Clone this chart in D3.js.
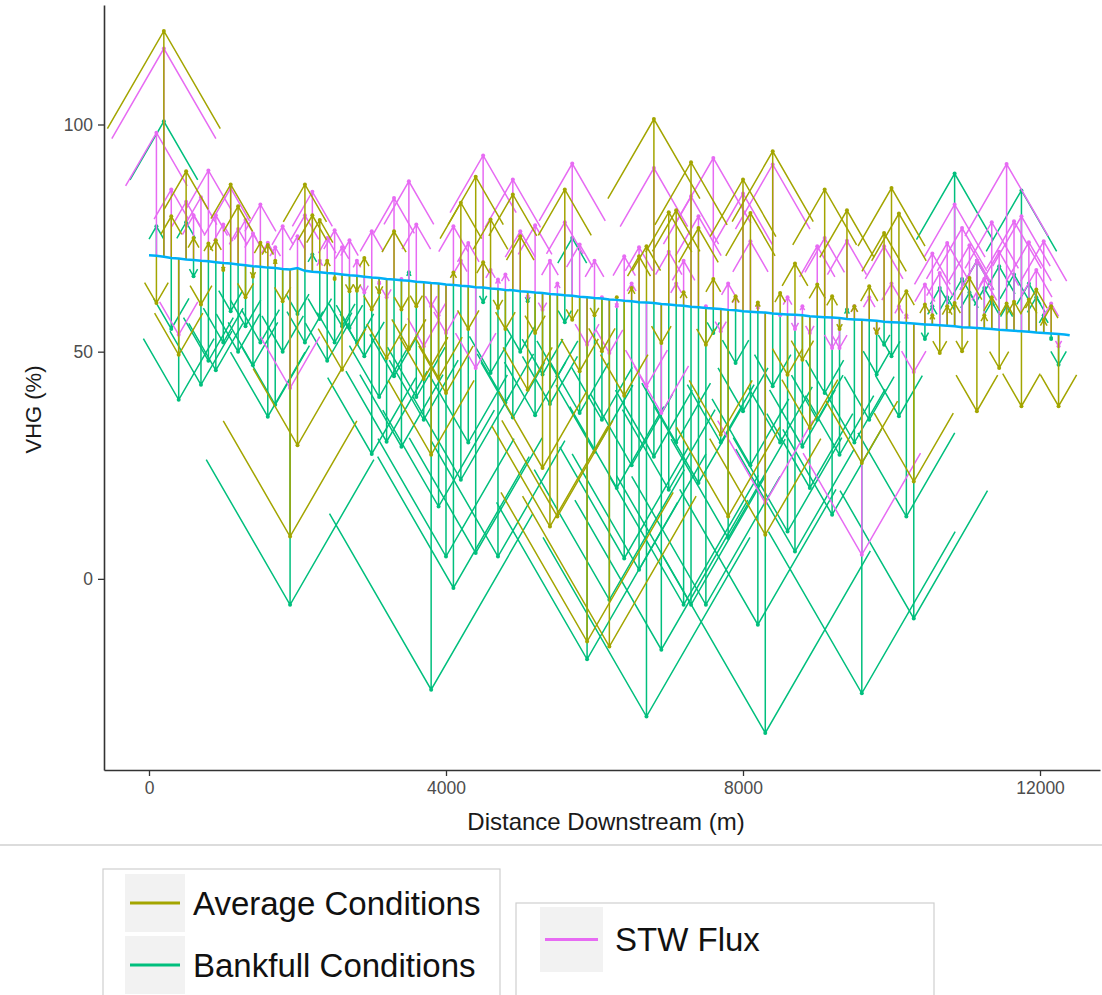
<!DOCTYPE html>
<html>
<head>
<meta charset="utf-8">
<script src="https://cdn.jsdelivr.net/npm/d3@7"></script>
<style>
  body { margin: 0; background: #fff; }
  text { font-family: "Liberation Sans", Arial, sans-serif; }
</style>
</head>
<body>
<svg id="chart" width="1102" height="995"></svg>
<script>
// Survey stations along the reach (m downstream)
const distance = [
  0,100,200,300,400,500,600,700,800,900,1000,1100,1200,1300,1400,1500,1600,1700,1800,1900,
  2000,2100,2200,2300,2400,2500,2600,2700,2800,2900,3000,3100,3200,3300,3400,3500,3600,3700,3800,3900,
  4000,4100,4200,4300,4400,4500,4600,4700,4800,4900,5000,5100,5200,5300,5400,5500,5600,5700,5800,5900,
  6000,6100,6200,6300,6400,6500,6600,6700,6800,6900,7000,7100,7200,7300,7400,7500,7600,7700,7800,7900,
  8000,8100,8200,8300,8400,8500,8600,8700,8800,8900,9000,9100,9200,9300,9400,9500,9600,9700,9800,9900,
  10000,10100,10200,10300,10450,10550,10650,10750,10850,10950,11050,11150,11250,11350,11450,11550,11650,11750,11850,11950,
  12050,12150,12250,12330,12400
];

// Reference VHG at each station (start of every arrow)
const baseline = [
  71.2,71.1,70.9,70.6,70.5,70.3,70.2,70.0,69.9,69.7,69.5,69.4,69.2,69.0,68.8,68.7,68.5,68.4,68.2,68.1,
  68.4,67.8,67.6,67.5,67.3,67.2,67.0,66.8,66.7,66.5,66.3,66.2,66.0,65.9,65.7,65.6,65.4,65.3,65.1,65.0,
  64.8,64.7,64.5,64.4,64.2,64.1,63.9,63.8,63.6,63.5,63.3,63.2,63.0,62.9,62.7,62.6,62.4,62.3,62.1,62.0,
  61.8,61.7,61.5,61.4,61.2,61.1,60.9,60.8,60.7,60.5,60.4,60.2,60.1,59.9,59.8,59.6,59.5,59.4,59.2,59.1,
  58.9,58.8,58.7,58.6,58.4,58.3,58.2,58.1,58.0,57.8,57.7,57.6,57.5,57.4,57.2,57.1,57.0,56.9,56.8,56.6,
  56.5,56.4,56.3,56.2,56.0,55.9,55.8,55.7,55.6,55.4,55.3,55.2,55.1,55.0,54.8,54.7,54.6,54.5,54.4,54.2,
  54.1,54.0,53.9,53.8,53.6
];

// VHG under average flow conditions
const average = [
  null,60.7,120.6,79.8,49.3,89.7,75,60.4,73.8,74.5,68,86.8,82.0,62,66.5,74,73.5,70,61.1,9.3,
  29.4,86.8,80,79,70,66,46,63.3,63.4,70.6,59.3,63,48.6,76.5,59.3,50.6,60,44,27.3,44.2,
  40.9,67.4,82.8,55,88.5,69.7,79.1,59.6,55,84.6,75.4,41.6,54.1,24.4,11.5,13.7,85.7,57.0,45.7,-13.8,
  58,50.1,-14.9,62,40.3,64,71,73.2,101.2,51.9,80.7,81.1,63.1,91.7,77.2,51.5,66,31.7,13.7,62.2,
  87.9,80.5,60.8,9.7,94.1,62.9,44.9,69.4,48.2,33.2,64.8,85.7,62.2,55,81.1,60,25.5,64.4,54.1,76.1,
  86.0,80.4,63.3,21.4,60.4,58,49.7,60,60.7,50.1,66.2,36.9,58,62,46.4,60.6,61,38,61.5,63.7,
  57,60,38,null,null
];

// VHG under bankfull conditions
const bankfull = [
  null,77.6,100.7,55,39.4,78.5,66.6,42.7,48,45.9,52,58.9,50,55.6,47,52,35.7,38.3,50,-5.7,
  58.3,52,71.4,57.2,48,52,55.6,55.2,51.9,49,27.5,40,30.2,44.6,29.1,67.5,40,35,-24.4,15.9,
  4.9,-2.0,21.8,30,5.7,60.9,45.3,4.9,38.8,35.5,50,61.1,36,45,38.5,44.6,56.5,75.0,36.5,-17.7,
  28,35,-4.6,20,4.5,25,2.0,-30.3,26.9,-15.6,19.6,30,-5.7,-5.7,21.1,-5.7,54.1,30,9.0,47.5,
  36.9,25,-10.1,-33.9,42.4,30,10.4,6.0,29.1,20,35,40.9,14.1,27.3,59.3,30,-25.2,35,45,51.5,
  49,35.8,13.7,-8.7,52.8,60,64,62,89.2,66,63,70,64,61,68.8,60,67,85.5,65,62,
  58,52.8,47.1,null,null
];

// VHG derived from surface-water/groundwater flux
const stwFlux = [
  null,98.2,116.7,85.7,53.7,83,80,84,89.9,80,78,86,77,79,76,82.4,74,73,77.6,42,
  75.4,80,85.2,70,75,76.7,73,74.5,70,63,76.5,65,62,83.8,66,87.5,78,51.2,60,58,
  54.1,77.6,70,73.9,46.4,93.2,68,65.9,67,87.9,76.5,62,77.8,59.2,70,65,78.5,91.4,73.6,51.5,
  70,62,49.7,60,71,65,73,42.4,90.4,36.5,72,65,70,84.2,79.8,60,92.6,54.5,65,62,
  84.8,74.3,60,16.7,91.2,58,62,55,60,54.1,73.2,75,50.8,50.8,74.4,60,5.3,62,54.1,73.2,
  65,60,58,45.5,64.8,71.6,67.3,73.9,82.4,77.2,73.4,70,66,78.5,72,91.3,78.7,79.8,74.1,68,
  74.3,60.6,51.2,null,null
];

const yTicks = [0, 50, 100];
const xTicks = [0, 4000, 8000, 12000];
const legendLeft = ["Average Conditions", "Bankfull Conditions"];
const legendRight = ["STW Flux"];

const colors = {
  "Average Conditions": "#A3A500",
  "Bankfull Conditions": "#00BF7D",
  "STW Flux": "#E76BF3",
  base: "#00B0F6"
};

const svg = d3.select("#chart");
const panel = { left: 104, right: 1100, top: 5, bottom: 770 };

const x = d3.scaleLinear().domain([-606, 12808]).range([panel.left, panel.right]);
const y = d3.scaleLinear().domain([-42.07, 126.3]).range([panel.bottom, panel.top]);

svg.append("defs").append("clipPath").attr("id", "panel-clip")
  .append("rect")
  .attr("x", panel.left).attr("y", panel.top)
  .attr("width", panel.right - panel.left).attr("height", panel.bottom - panel.top);

const plot = svg.append("g").attr("clip-path", "url(#panel-clip)");

// Arrow from the reference line to the station value; head scales with arrow length
const HEAD_RATIO = 0.5;
const HEAD_ANGLE = Math.PI / 6;

function arrowPath(i, v) {
  const px = x(distance[i]);
  const y0 = y(baseline[i]);
  const y1 = y(v);
  const len = Math.abs(y1 - y0);
  const dir = y1 >= y0 ? 1 : -1;
  const h = len * HEAD_RATIO;
  const dx = h * Math.sin(HEAD_ANGLE);
  const dy = h * Math.cos(HEAD_ANGLE) * dir;
  return `M${px},${y0}L${px},${y1}` +
         `M${px - dx},${y1 - dy}L${px},${y1}L${px + dx},${y1 - dy}`;
}

const layers = [
  { name: "Bankfull Conditions", values: bankfull },
  { name: "STW Flux", values: stwFlux },
  { name: "Average Conditions", values: average }
];

layers.forEach(layer => {
  const idx = layer.values.map((v, i) => i).filter(i => layer.values[i] !== null);
  const g = plot.append("g");
  g.selectAll("path").data(idx).join("path")
    .attr("d", i => arrowPath(i, layer.values[i]))
    .attr("fill", "none")
    .attr("stroke", colors[layer.name])
    .attr("stroke-width", 1.5)
    .attr("stroke-linejoin", "miter");
  g.selectAll("circle").data(idx).join("circle")
    .attr("cx", i => x(distance[i]))
    .attr("cy", i => y(layer.values[i]))
    .attr("r", 2)
    .attr("fill", colors[layer.name]);
});

// Reference line
plot.append("path")
  .datum(distance.map((d, i) => [d, baseline[i]]))
  .attr("d", d3.line().x(d => x(d[0])).y(d => y(d[1])))
  .attr("fill", "none")
  .attr("stroke", colors.base)
  .attr("stroke-width", 2.5);

// Axes
const yAxis = svg.append("g")
  .attr("transform", `translate(${panel.left},0)`)
  .call(d3.axisLeft(y).tickValues(yTicks).tickSize(6).tickSizeOuter(0).tickPadding(5));
const xAxis = svg.append("g")
  .attr("transform", `translate(0,${panel.bottom})`)
  .call(d3.axisBottom(x).tickValues(xTicks).tickSize(6).tickSizeOuter(0).tickPadding(6).tickFormat(d3.format("d")));

[yAxis, xAxis].forEach(a => {
  a.select(".domain").attr("stroke", "#333").attr("stroke-width", 1.6);
  a.selectAll(".tick line").attr("stroke", "#333").attr("stroke-width", 1.3);
  a.selectAll(".tick text")
    .attr("fill", "#4D4D4D")
    .style("font-size", "17.5px")
    .style("font-family", "'Liberation Sans', Arial, sans-serif");
});

svg.append("text")
  .attr("x", (panel.left + panel.right) / 2 + 4)
  .attr("y", 830)
  .attr("text-anchor", "middle")
  .attr("fill", "#1a1a1a")
  .style("font-size", "24px")
  .text("Distance Downstream (m)");

svg.append("text")
  .attr("transform", `translate(41,${(panel.top + panel.bottom) / 2 + 22}) rotate(-90)`)
  .attr("text-anchor", "middle")
  .attr("fill", "#1a1a1a")
  .style("font-size", "22px")
  .text("VHG (%)");

// Legend area
svg.append("line")
  .attr("x1", 0).attr("x2", 1102).attr("y1", 845).attr("y2", 845)
  .attr("stroke", "#d0d0d0").attr("stroke-width", 1.5);

function legendBox(items, bx, by, bw, bh, keyX, keyW, rowTop, rowH, textX) {
  const g = svg.append("g");
  g.append("rect")
    .attr("x", bx).attr("y", by).attr("width", bw).attr("height", bh)
    .attr("fill", "#fff").attr("stroke", "#cfcfcf").attr("stroke-width", 1.2);
  const rows = g.selectAll("g.row").data(items).join("g").attr("class", "row")
    .attr("transform", (d, i) => `translate(0,${rowTop + i * rowH})`);
  rows.append("rect")
    .attr("x", keyX).attr("y", 0).attr("width", keyW).attr("height", rowH - 4)
    .attr("fill", "#F2F2F2");
  rows.append("line")
    .attr("x1", keyX + 5).attr("x2", keyX + keyW - 5)
    .attr("y1", (rowH - 4) / 2).attr("y2", (rowH - 4) / 2)
    .attr("stroke", d => colors[d]).attr("stroke-width", 3);
  rows.append("text")
    .attr("x", textX).attr("y", (rowH - 4) / 2)
    .attr("dy", "0.36em")
    .attr("fill", "#111")
    .style("font-size", "33px")
    .text(d => d);
}

legendBox(legendLeft, 103, 869, 397, 140, 125, 60, 874, 62, 193);
legendBox(legendRight, 516, 903, 418, 110, 540, 63, 907, 69, 615);
</script>
</body>
</html>
